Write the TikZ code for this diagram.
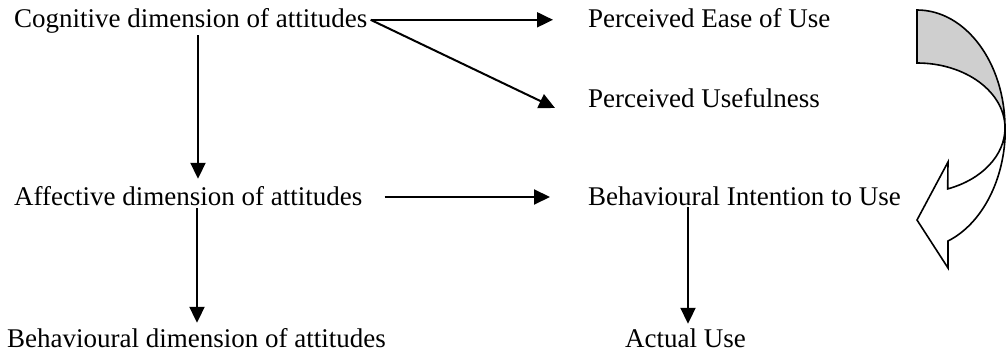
\documentclass[tikz,border=0pt]{standalone}
\usepackage{fontspec}
\setmainfont{Liberation Serif}
\usepackage{tikz}
\usetikzlibrary{arrows.meta}
\tikzset{   label/.style = {anchor = base west, inner sep = 0pt, font = \fontsize{27pt}{30pt}\selectfont, text height = 19pt, text depth = 6pt},
            arr/.style = {line width = 2pt, -{Triangle[length = 16pt, width = 15pt]}},
            ribbon/.style = {draw = black, line width = 1.6pt, line join = miter}}

\begin{document}
\begin{tikzpicture}[x = 1pt, y = 1pt]
                        \useasboundingbox (0, 0) rectangle (1006, 351);
                        \node[label] (cog) at (14, 323) {Cognitive dimension of attitudes};
                        \node[label] (ease) at (588, 323) {Perceived Ease of Use};
                        \node[label] (useful) at (588, 243) {Perceived Usefulness};
                        \node[label] (aff) at (14, 146) {Affective dimension of attitudes};
                        \node[label] (intent) at (588, 145) {Behavioural Intention to Use};
                        \node[label, text depth = 0pt] (beh) at (7, 4) {Behavioural dimension of attitudes};
                        \node[label, text depth = 0pt] (actual) at (625, 4) {Actual Use};
                        \begin{scope}
                        \draw[arr] ([shift = {(3pt, -11pt)}]cog.north east) -- ([shift = {(-35pt, -11pt)}]ease.north west);
                        \draw[arr] ([shift = {(3pt, -11pt)}]cog.north east) -- ([shift = {(-33pt, -6.5pt)}]useful.west);
                        \draw[arr] ([shift = {(184pt, -1pt)}]cog.south west) -- ([shift = {(184pt, 7pt)}]aff.north west);
                        \draw[arr] ([shift = {(183pt, 3pt)}]aff.south west) -- ([shift = {(190pt, 5pt)}]beh.north west);
                        \draw[arr] ([shift = {(22pt, 1.5pt)}]aff.east) -- ([shift = {(-38pt, 2.5pt)}]intent.west);
                        \draw[arr] ([shift = {(100pt, 5pt)}]intent.south west) -- ([shift = {(63pt, 4pt)}]actual.north west);
                        \end{scope}
                        \begin{scope}
                        \draw[ribbon, fill = black!19] (917, 341) arc[start angle = 90, end angle = 0, x radius = 88, y radius = 118]
                              arc[start angle = 0, end angle = 90, x radius = 88, y radius = 65] -- cycle;
                        \draw[ribbon, fill = white] (1005, 223) arc[start angle = 0, end angle = -69.6, x radius = 88, y radius = 65]
                              -- (948, 189) -- (917, 131) -- (948, 83) -- (948, 110)
                              arc[start angle = -69.6, end angle = 0, x radius = 88, y radius = 120] -- cycle;
                        \end{scope}
                      \end{tikzpicture}
\end{document}
